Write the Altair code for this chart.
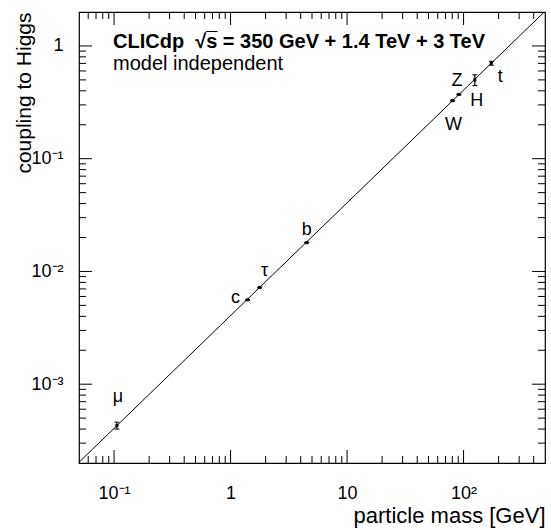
import altair as alt
import pandas as pd

FONT = "Liberation Sans"

# Particles, their masses [GeV] and measured Higgs couplings
particles = ["μ", "c", "τ", "b", "W", "Z", "H", "t"]
masses = [0.1057, 1.40, 1.777, 4.50, 80.4, 91.19, 125.0, 173.0]
couplings = [4.3e-4, 5.6e-3, 7.2e-3, 1.8e-2, 0.327, 0.371, 0.50, 0.703]
errors = [0.3e-4, 0.05e-3, 0.07e-3, 0.15e-3, 0.003, 0.003, 0.055, 0.028]

# Standard Model expectation: coupling proportional to mass
line_mass = [0.05, 500.0]
line_coupling = [2.03e-4, 2.03]

# Axis tick values
x_major = [0.1, 1, 10, 100]
x_minor = [0.06, 0.07, 0.08, 0.09,
           0.2, 0.3, 0.4, 0.5, 0.6, 0.7, 0.8, 0.9,
           2, 3, 4, 5, 6, 7, 8, 9,
           20, 30, 40, 50, 60, 70, 80, 90,
           200, 300, 400]
y_major = [1e-3, 1e-2, 1e-1, 1]
y_minor = [3e-4, 4e-4, 5e-4, 6e-4, 7e-4, 8e-4, 9e-4,
           2e-3, 3e-3, 4e-3, 5e-3, 6e-3, 7e-3, 8e-3, 9e-3,
           2e-2, 3e-2, 4e-2, 5e-2, 6e-2, 7e-2, 8e-2, 9e-2,
           0.2, 0.3, 0.4, 0.5, 0.6, 0.7, 0.8, 0.9]

W, H = 466, 451
MAJOR, MINOR = 13, 7

pts = pd.DataFrame({
    "particle": particles,
    "mass": masses,
    "coupling": couplings,
    "lo": [c - e for c, e in zip(couplings, errors)],
    "hi": [c + e for c, e in zip(couplings, errors)],
})
caps = pd.DataFrame({
    "mass": masses + masses,
    "coupling": pts["lo"].tolist() + pts["hi"].tolist(),
})
line_df = pd.DataFrame({"mass": line_mass, "coupling": line_coupling})

xscale = alt.Scale(type="log", domain=[0.05, 500], nice=False)
yscale = alt.Scale(type="log", domain=[2e-4, 2], nice=False)

x_labels = ("datum.value < 0.5 ? '10⁻¹' : datum.value < 5 ? '1' : "
            "datum.value < 50 ? '10' : '10²'")
y_labels = ("datum.value < 0.005 ? '10⁻³' : datum.value < 0.05 ? '10⁻²' : "
            "datum.value < 0.5 ? '10⁻¹' : '1'")

x_axis = alt.Axis(
    values=x_major, labelExpr=x_labels, ticks=False, domain=False, grid=False,
    labelFont=FONT, labelFontSize=18, labelColor="black", labelPadding=21,
    labelFlush=False, labelOverlap=False,
    title="particle mass [GeV]", titleFont=FONT, titleFontSize=22,
    titleFontWeight="normal", titleColor="black", titleAnchor="end",
    titleAlign="right", titleX=W, titleY=59, titleBaseline="alphabetic",
)
y_axis = alt.Axis(
    values=y_major, labelExpr=y_labels, ticks=False, domain=False, grid=False,
    labelFont=FONT, labelFontSize=18, labelColor="black", labelPadding=16,
    labelFlush=False, labelOverlap=False,
    title="coupling to Higgs", titleFont=FONT, titleFontSize=21,
    titleFontWeight="normal", titleColor="black", titleAngle=270,
    titleAlign="right", titleX=-49, titleY=0, titleBaseline="alphabetic",
)


def xenc(field):
    return alt.X(field, scale=xscale, axis=x_axis)


def yenc(field):
    return alt.Y(field, scale=yscale, axis=y_axis)


line = alt.Chart(line_df).mark_line(color="black", strokeWidth=1, clip=True).encode(
    x=xenc("mass:Q"), y=yenc("coupling:Q"),
)

bars = alt.Chart(pts).mark_rule(color="black", strokeWidth=1.2).encode(
    x=xenc("mass:Q"), y=yenc("lo:Q"), y2="hi:Q"
)
cap_marks = alt.Chart(caps).mark_tick(
    orient="horizontal", size=5, thickness=1, color="black", opacity=1
).encode(x=xenc("mass:Q"), y=yenc("coupling:Q"))
dots = alt.Chart(pts).mark_square(size=9, color="black", opacity=1).encode(
    x=xenc("mass:Q"), y=yenc("coupling:Q")
)

# label placement relative to each point (dx, dy in pixels)
label_offsets = {
    "μ": (1, -24), "c": (-12, 3), "τ": (5, -12), "b": (0, -8),
    "W": (1, 29), "Z": (-2, -8), "H": (2, 26), "t": (9, 19),
}
labels = [
    alt.Chart(pts).transform_filter(alt.datum.particle == p).mark_text(
        font=FONT, fontSize=18, color="black", align="center",
        baseline="alphabetic", dx=dx, dy=dy,
    ).encode(x=xenc("mass:Q"), y=yenc("coupling:Q"), text="particle:N")
    for p, (dx, dy) in label_offsets.items()
]


def tick_layer(values, along, length, side):
    df = pd.DataFrame({"v": values})
    base = alt.Chart(df).mark_rule(color="black", strokeWidth=1)
    if along == "x":
        enc = dict(x=xenc("v:Q"))
        if side == "bottom":
            enc.update(y=alt.value(H), y2=alt.value(H - length))
        else:
            enc.update(y=alt.value(0), y2=alt.value(length))
    else:
        enc = dict(y=yenc("v:Q"))
        if side == "left":
            enc.update(x=alt.value(0), x2=alt.value(length))
        else:
            enc.update(x=alt.value(W), x2=alt.value(W - length))
    return base.encode(**enc)


ticks = [
    tick_layer(x_major, "x", MAJOR, "bottom"), tick_layer(x_minor, "x", MINOR, "bottom"),
    tick_layer(x_major, "x", MAJOR, "top"), tick_layer(x_minor, "x", MINOR, "top"),
    tick_layer(y_major, "y", MAJOR, "left"), tick_layer(y_minor, "y", MINOR, "left"),
    tick_layer(y_major, "y", MAJOR, "right"), tick_layer(y_minor, "y", MINOR, "right"),
]

NBSP = "\u00a0"
header = alt.Chart(pd.DataFrame({"t": [f"CLICdp{NBSP}{NBSP}√s\u0305 = 350 GeV + 1.4 TeV + 3 TeV"]})).mark_text(
    font=FONT, fontSize=20, fontWeight="bold", color="black", align="left",
    baseline="alphabetic",
).encode(x=alt.value(34), y=alt.value(36), text="t:N")
subheader = alt.Chart(pd.DataFrame({"t": ["model independent"]})).mark_text(
    font=FONT, fontSize=20, color="black", align="left", baseline="alphabetic",
).encode(x=alt.value(34), y=alt.value(58), text="t:N")

chart = alt.layer(line, *ticks, bars, cap_marks, dots, *labels, header, subheader).properties(
    width=W, height=H,
    padding={"left": 79, "top": 12, "right": 6, "bottom": 67},
    autosize=alt.AutoSizeParams(type="none"),
    background="white",
).configure_view(stroke="black", strokeWidth=1.2)

chart.save("out.html", embed_options={"renderer": "svg", "actions": False})
